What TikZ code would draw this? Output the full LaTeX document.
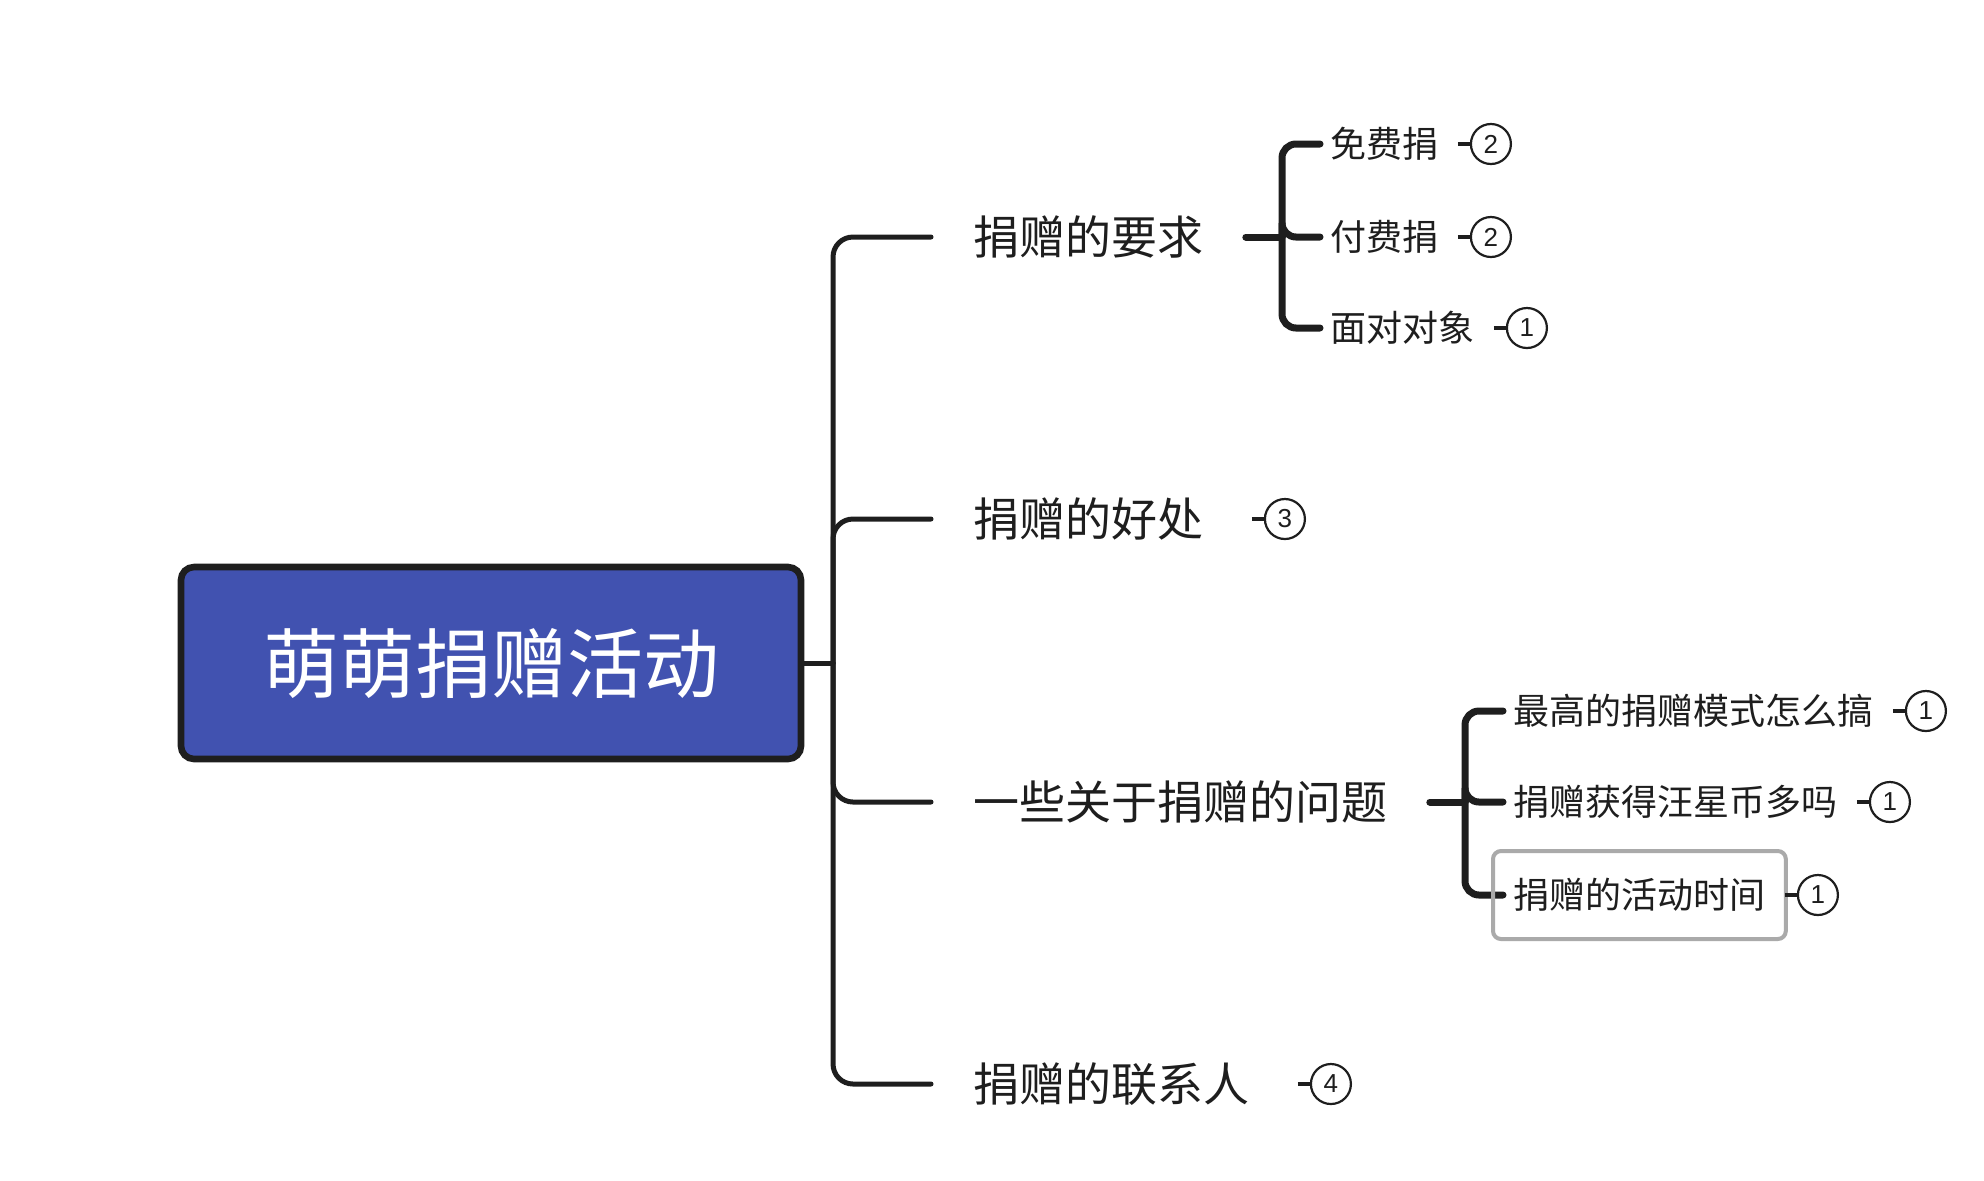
\documentclass[tikz,border=0pt]{standalone}
\usepackage{fontspec}
\setmainfont{Noto Sans CJK SC}
\newfontfamily\digitfont{Liberation Sans}
\usepackage{tikz}
\usetikzlibrary{
    positioning
}
\tikzset{
    % Colors
    root fill/.style={fill={rgb,255:red,65;green,82;blue,176}},
    ink color/.style={color={rgb,255:red,30;green,30;blue,30}},
    select color/.style={color={rgb,255:red,170;green,170;blue,170}},
    %
    % Nodes
    root node/.style={rectangle,rounded corners=6.5pt,draw,ink color,line width=3.3pt,root fill,
        minimum width=310pt,minimum height=96pt,text=white,font=\fontsize{38pt}{44pt}\selectfont},
    topic/.style={anchor=west,inner xsep=21pt,inner ysep=2pt,ink color,font=\fontsize{23pt}{28pt}\selectfont},
    subtopic/.style={anchor=west,inner xsep=5pt,inner ysep=2pt,ink color,font=\fontsize{18pt}{22pt}\selectfont},
    badge/.style={circle,draw,ink color,line width=1.1pt,minimum size=20pt,inner sep=0pt,fill=white,
        font=\digitfont\fontsize{13pt}{14pt}\selectfont},
    %
    % Lines
    trunk/.style={ink color,line width=2.5pt,line cap=round,rounded corners=10pt},
    subtrunk/.style={ink color,line width=3.5pt,line cap=round,rounded corners=7pt},
    stub/.style={ink color,line width=2.2pt},
    selbox/.style={select color,line width=2pt,rounded corners=4pt},
}

\begin{document}
\begin{tikzpicture}[x=0.5pt,y=-0.5pt]
        \useasboundingbox (0,0) rectangle (1984,1180);
        % root
        \node[root node] (root) at (491,663) {萌萌捐赠活动};
        \coordinate (hub) at (833,663);
        % first level
        \node[topic] (a1) at (931,237) {捐赠的要求};
        \node[topic] (a2) at (931,519) {捐赠的好处};
        \node[topic] (a3) at (931,802) {一些关于捐赠的问题};
        \node[topic] (a4) at (931,1084) {捐赠的联系人};
        \draw[trunk] (root.east) -- (hub);
        \foreach \n in {a1,a2,a3,a4} {
            \draw[trunk] (hub) |- (\n.west);
        };
        % second level, requirements
        \coordinate (hub1) at (1282,237);
        \node[subtopic] (s1) at (1320,144) {免费捐};
        \node[subtopic] (s2) at (1320,237) {付费捐};
        \node[subtopic] (s3) at (1320,328) {面对对象};
        \draw[subtrunk] (a1.east) -- (hub1);
        \foreach \n in {s1,s2,s3} {
            \draw[subtrunk] (hub1) |- (\n.west);
        };
        % second level, questions
        \coordinate (hub3) at (1465,802);
        \node[subtopic] (s4) at (1503,711) {最高的捐赠模式怎么搞};
        \node[subtopic] (s5) at (1503,802) {捐赠获得汪星币多吗};
        \node[subtopic] (s6) at (1503,895) {捐赠的活动时间};
        \draw[subtrunk] (a3.east) -- (hub3);
        \foreach \n in {s4,s5,s6} {
            \draw[subtrunk] (hub3) |- (\n.west);
        };
        \draw[selbox] ([shift={(-5pt,22pt)}]s6.west) rectangle ([shift={(5pt,-22pt)}]s6.east);
        % badges
        \node[badge,right=9pt of a2] (b2) {3};
        \node[badge,right=9pt of a4] (b4) {4};
        \draw[stub] ([xshift=3pt]a2.east) -- (b2.west);
        \draw[stub] ([xshift=3pt]a4.east) -- (b4.west);
        \foreach \n/\v in {s1/2,s2/2,s3/1,s4/1,s5/1,s6/1} {
            \node[badge,right=10.5pt of \n] (b\n) {\v};
            \draw[stub] ([xshift=4.5pt]\n.east) -- (b\n.west);
        };
    \end{tikzpicture}
\end{document}
